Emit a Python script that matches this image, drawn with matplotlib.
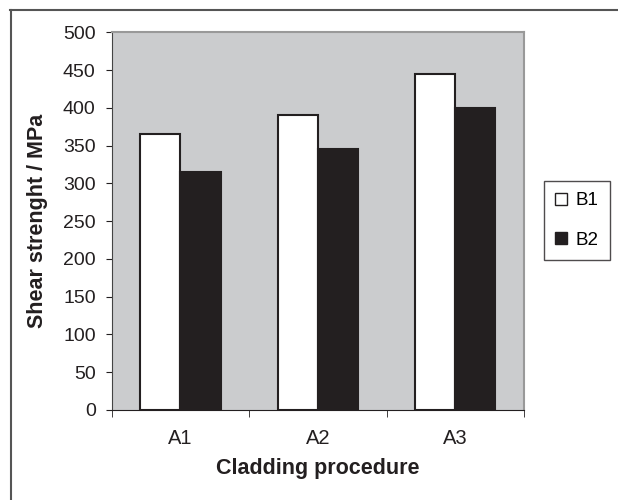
import matplotlib.pyplot as plt
from matplotlib.lines import Line2D
import numpy as np

plt.rcParams['font.family'] = ['Liberation Sans', 'DejaVu Sans']

categories = ['A1', 'A2', 'A3']
b1 = [365, 390, 445]
b2 = [315, 345, 400]

ink = '#231f20'

fig = plt.figure(figsize=(6.18, 5.0), dpi=100)
ax = fig.add_axes([111.7 / 618, 1 - 410 / 500, (524 - 111.7) / 618, (410 - 32.3) / 500])
ax.set_facecolor('#cbccce')

x = np.arange(len(categories))
w = 0.292
ax.bar(x - w / 2, b1, w, color='white', edgecolor=ink, linewidth=1.5, label='B1')
ax.bar(x + w / 2, b2, w, color=ink, edgecolor=ink, linewidth=1.5, label='B2')

ax.set_xlim(-0.5, 2.5)
ax.set_ylim(0, 500)
ax.set_yticks(range(0, 501, 50))
ax.tick_params(axis='y', direction='out', length=4.5, pad=7, labelsize=14, colors=ink)
ax.set_xticks(x)
ax.set_xticklabels(categories, fontsize=14.5)
ax.tick_params(axis='x', length=0, pad=14, colors=ink)
ax.set_xticks([-0.5, 0.5, 1.5, 2.5], minor=True)
ax.tick_params(axis='x', which='minor', direction='out', length=5, color=ink)

for s in ['top', 'right']:
    ax.spines[s].set_color('#999999')
    ax.spines[s].set_linewidth(1.5)
ax.spines['left'].set_color('#444444')
ax.spines['bottom'].set_color(ink)

ax.set_xlabel('Cladding procedure', fontsize=15.5, fontweight='bold', labelpad=7, color=ink)
ax.set_ylabel('Shear strenght / MPa', fontsize=15.5, fontweight='bold', labelpad=11, color=ink)

leg = fig.legend(loc='upper left', bbox_to_anchor=(544 / 618, 1 - 181 / 500), fontsize=13.5,
                 frameon=True, fancybox=False, edgecolor=ink, handlelength=0.6,
                 handleheight=0.6, handletextpad=0.5, labelspacing=1.2, borderpad=0.6,
                 borderaxespad=0)
leg.get_frame().set_linewidth(1.0)
for h in leg.legend_handles:
    h.set_linewidth(1.0)

# frame lines along top and left of the figure
fig.add_artist(Line2D([10 / 618, 1], [1 - 9.5 / 500, 1 - 9.5 / 500], color='#555555', linewidth=1.5))
fig.add_artist(Line2D([10.5 / 618, 10.5 / 618], [0, 1 - 9.5 / 500], color='#555555', linewidth=1.5))

plt.savefig('out.png', dpi=100)
